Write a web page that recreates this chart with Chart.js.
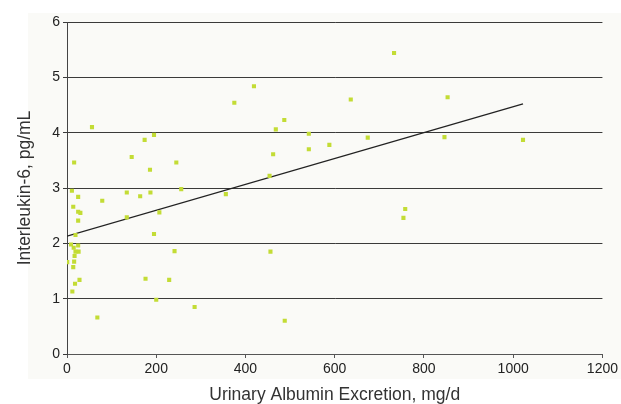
<!DOCTYPE html>
<html>
<head>
	<meta charset="utf-8">
	<title>IL-6 vs UAE</title>
	<script src="https://cdn.jsdelivr.net/npm/chart.js"></script>
	<style>
		body { margin: 0; background: #ffffff; }
	</style>
</head>
<body>
	<canvas id="scatterChart" width="621" height="404"></canvas>
	<script>
		// Urinary albumin excretion (mg/d) and interleukin-6 (pg/mL)
		const uaeValues = [16, 11, 25, 79, 134, 164, 187, 145, 186, 245, 256, 14, 25, 30, 25, 19, 134, 207, 195, 9,
			15, 25, 19, 26, 17, 0.5, 16, 14, 241, 176, 229, 28, 18, 12, 200, 286, 68, 487, 468, 542,
			462, 542, 588, 674, 846, 1022, 454, 356, 758, 754, 456, 488, 56, 375, 419, 733, 636, 853, 174, 195];
		const il6Values = [3.46, 2.95, 2.84, 2.77, 2.92, 2.85, 2.92, 3.56, 3.33, 3.46, 2.98, 2.66, 2.57, 2.55, 2.41, 2.15, 2.47, 2.56, 2.17, 1.98,
			1.92, 1.96, 1.85, 1.85, 1.77, 1.66, 1.67, 1.57, 1.86, 1.36, 1.34, 1.34, 1.27, 1.13, 0.98, 0.85, 0.66, 4.23, 4.06, 3.98,
			3.61, 3.70, 3.78, 3.91, 3.92, 3.87, 3.22, 2.89, 2.62, 2.46, 1.85, 0.60, 4.10, 4.54, 4.84, 5.44, 4.60, 4.64, 3.87, 3.96];

		// linear trend line end points
		const trendX = [0, 1022];
		const trendY = [2.13, 4.52];

		const xTicks = [0, 200, 400, 600, 800, 1000, 1200];
		const yTicks = [0, 1, 2, 3, 4, 5, 6];

		const xTitle = "Urinary Albumin Excretion, mg/d";
		const yTitle = "Interleukin-6, pg/mL";

		Chart.defaults.font.family = "'Liberation Sans', Arial, sans-serif";

		// faint panel behind the plot, like the original figure
		const panelBg = {
			id: "panelBg",
			beforeDraw(chart) {
				const ctx = chart.ctx;
				ctx.save();
				ctx.fillStyle = "#fafaf7";
				ctx.fillRect(28, 13, chart.width - 28, 366);
				ctx.restore();
			}
		};

		const points = uaeValues.map((x, i) => ({ x: x, y: il6Values[i] }));
		const trend = trendX.map((x, i) => ({ x: x, y: trendY[i] }));

		new Chart(document.getElementById("scatterChart"), {
			type: "scatter",
			data: {
				datasets: [
					{
						label: "Patients",
						data: points,
						pointStyle: "rect",
						pointRadius: 2.9,
						backgroundColor: "#c3dc35",
						borderWidth: 0
					},
					{
						type: "line",
						label: "Trend",
						data: trend,
						borderColor: "#222222",
						borderWidth: 1.3,
						pointRadius: 0,
						fill: false
					}
				]
			},
			options: {
				responsive: false,
				animation: false,
				layout: { padding: { top: 22, right: 13, left: 0, bottom: 0 } },
				plugins: {
					legend: { display: false },
					tooltip: { enabled: false }
				},
				scales: {
					x: {
						type: "linear",
						min: xTicks[0],
						max: xTicks[xTicks.length - 1],
						afterBuildTicks: (s) => { s.ticks = xTicks.map(v => ({ value: v })); },
						afterFit: (s) => { s.height = 50; },
						ticks: { font: { size: 14 }, color: "#222", padding: 3, maxRotation: 0, callback: (v) => String(v) },
						grid: { drawOnChartArea: false, tickLength: 4, color: "#555" },
						border: { color: "#555", width: 1 },
						title: {
							display: true,
							text: xTitle,
							color: "#333",
							font: { size: 17.5, lineHeight: 1 },
							padding: { top: 0, bottom: 0 }
						}
					},
					y: {
						min: yTicks[0],
						max: yTicks[yTicks.length - 1],
						afterBuildTicks: (s) => { s.ticks = yTicks.map(v => ({ value: v })); },
						afterFit: (s) => { s.width = 67; },
						ticks: { font: { size: 14 }, color: "#222", padding: 3, callback: (v) => String(v) },
						grid: { color: "#3a3a3a", tickLength: 4 },
						border: { color: "#444", width: 1 },
						title: {
							display: true,
							text: yTitle,
							color: "#333",
							font: { size: 17.5, lineHeight: 1 },
							padding: { top: 16, bottom: 0 }
						}
					}
				}
			},
			plugins: [panelBg]
		});
	</script>
</body>
</html>
